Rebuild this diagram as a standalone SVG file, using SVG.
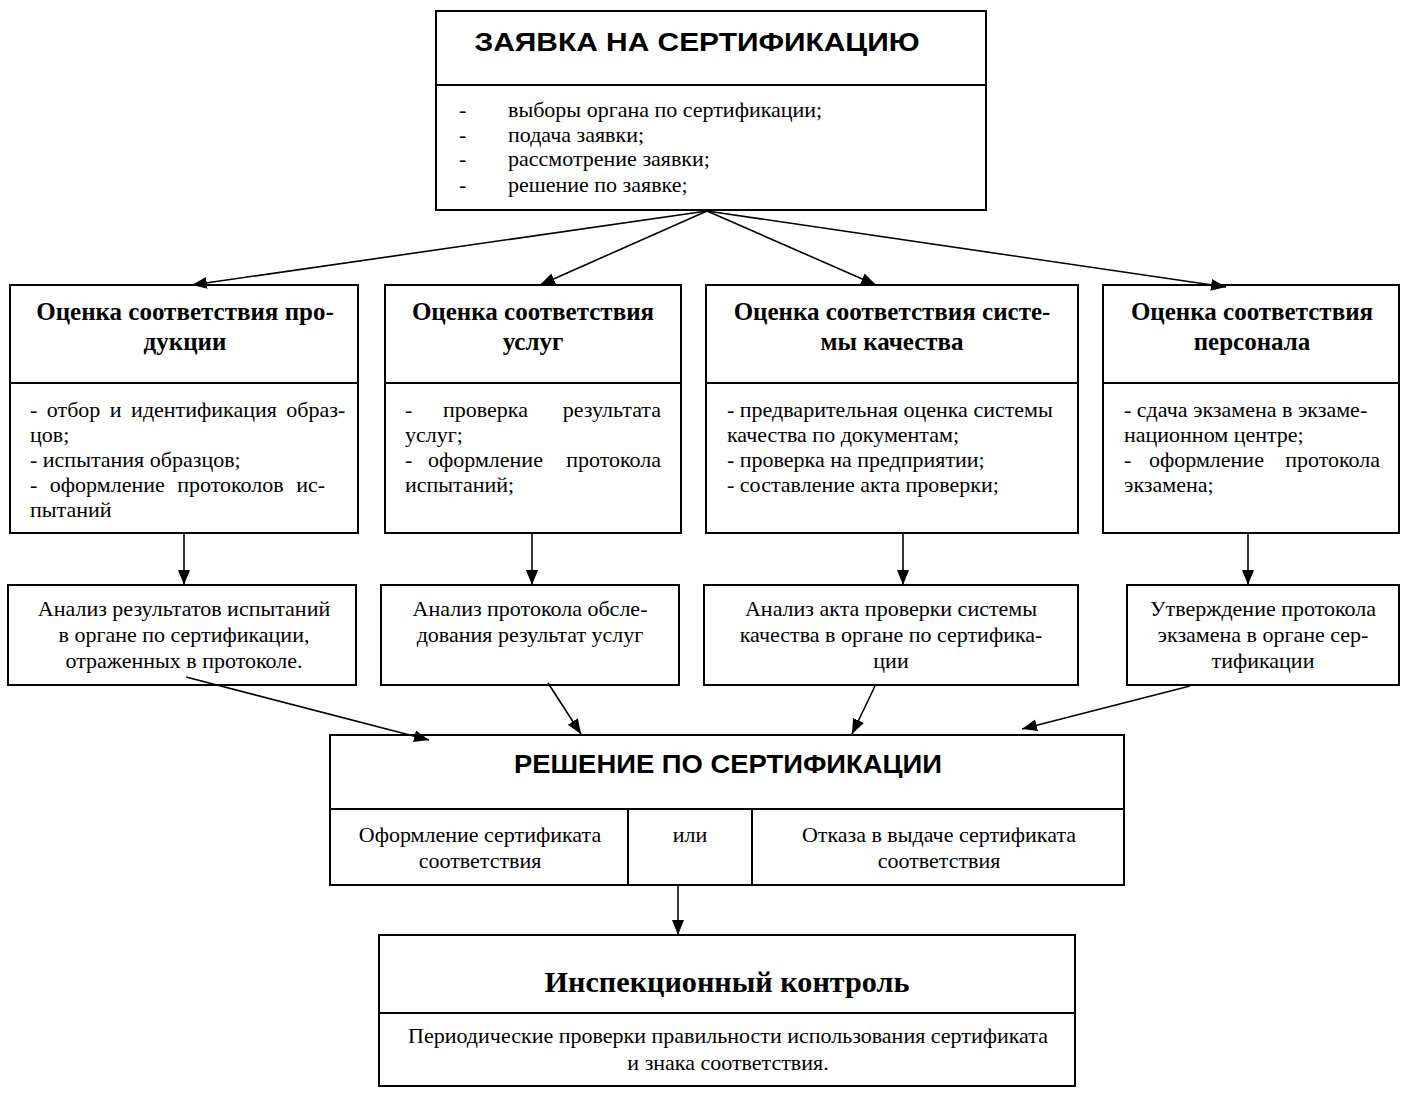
<svg xmlns="http://www.w3.org/2000/svg" width="1407" height="1100" viewBox="0 0 1407 1100">
<style>
.box{fill:#fff;stroke:#000;stroke-width:2}
.ln{stroke:#000;stroke-width:2}
.h1{font-family:"Liberation Sans",Arial,sans-serif;font-weight:bold;font-size:26px;text-anchor:middle}
.h2{font-family:"Liberation Serif","Times New Roman",serif;font-weight:bold;font-size:25px;text-anchor:middle}
.h3{font-family:"Liberation Serif","Times New Roman",serif;font-weight:bold;font-size:29px;text-anchor:middle}
.t{font-family:"Liberation Serif","Times New Roman",serif;font-size:22px}
.c{text-anchor:middle}
.con{stroke:#000;stroke-width:1.6;fill:none;marker-end:url(#ah)}
</style>
<defs>
<marker id="ah" markerUnits="userSpaceOnUse" markerWidth="17" markerHeight="14" refX="15" refY="7" orient="auto">
<path d="M0,1 L15,7 L0,13 Z" fill="#000"/>
</marker>
</defs>
<rect width="1407" height="1100" fill="#fff"/>
<g id="zayavka">
<rect class="box" x="436" y="11" width="550" height="199"/>
<line class="ln" x1="436" y1="85" x2="986" y2="85"/>
<text class="h1" x="697" y="51" textLength="445" lengthAdjust="spacingAndGlyphs">ЗАЯВКА НА СЕРТИФИКАЦИЮ</text>
<text class="t" x="459" y="117">-</text><text class="t" x="508" y="117">выборы органа по сертификации;</text>
<text class="t" x="459" y="142">-</text><text class="t" x="508" y="142">подача заявки;</text>
<text class="t" x="459" y="166">-</text><text class="t" x="508" y="166">рассмотрение заявки;</text>
<text class="t" x="459" y="192">-</text><text class="t" x="508" y="192">решение по заявке;</text>
</g>
<g id="ocenka-produkcii">
<rect class="box" x="10" y="285" width="348" height="248"/>
<line class="ln" x1="10" y1="383" x2="358" y2="383"/>
<text class="h2" x="185" y="320">Оценка соответствия про-</text>
<text class="h2" x="185" y="350">дукции</text>
<text class="t" x="30" y="417" word-spacing="4">- отбор и идентификация образ-</text>
<text class="t" x="30" y="442">цов;</text>
<text class="t" x="30" y="467">- испытания образцов;</text>
<text class="t" x="30" y="492" word-spacing="7">- оформление протоколов ис-</text>
<text class="t" x="30" y="517">пытаний</text>
</g>
<g id="ocenka-uslug">
<rect class="box" x="385" y="285" width="296" height="248"/>
<line class="ln" x1="385" y1="383" x2="681" y2="383"/>
<text class="h2" x="533" y="320">Оценка соответствия</text>
<text class="h2" x="533" y="350">услуг</text>
<text class="t" y="417"><tspan x="405">-</tspan><tspan x="443">проверка</tspan><tspan x="661" text-anchor="end">результата</tspan></text>
<text class="t" x="405" y="442">услуг;</text>
<text class="t" y="467"><tspan x="405">-</tspan><tspan x="428">оформление</tspan><tspan x="661" text-anchor="end">протокола</tspan></text>
<text class="t" x="405" y="492">испытаний;</text>
</g>
<g id="ocenka-sistemy">
<rect class="box" x="706" y="285" width="372" height="248"/>
<line class="ln" x1="706" y1="383" x2="1078" y2="383"/>
<text class="h2" x="892" y="320">Оценка соответствия систе-</text>
<text class="h2" x="892" y="350">мы качества</text>
<text class="t" x="727" y="417">- предварительная оценка системы</text>
<text class="t" x="727" y="442">качества по документам;</text>
<text class="t" x="727" y="467">- проверка на предприятии;</text>
<text class="t" x="727" y="492">- составление акта проверки;</text>
</g>
<g id="ocenka-personala">
<rect class="box" x="1103" y="285" width="296" height="248"/>
<line class="ln" x1="1103" y1="383" x2="1399" y2="383"/>
<text class="h2" x="1252" y="320">Оценка соответствия</text>
<text class="h2" x="1252" y="350">персонала</text>
<text class="t" x="1124" y="417">- сдача экзамена в экзаме-</text>
<text class="t" x="1124" y="442">национном центре;</text>
<text class="t" y="467"><tspan x="1124">-</tspan><tspan x="1149">оформление</tspan><tspan x="1380" text-anchor="end">протокола</tspan></text>
<text class="t" x="1124" y="492">экзамена;</text>
</g>
<g id="analiz-produkcii">
<rect class="box" x="8" y="585" width="348" height="100"/>
<text class="t c" x="184" y="616">Анализ результатов испытаний</text>
<text class="t c" x="184" y="642">в органе по сертификации,</text>
<text class="t c" x="184" y="668">отраженных в протоколе.</text>
</g>
<g id="analiz-uslug">
<rect class="box" x="381" y="585" width="298" height="100"/>
<text class="t c" x="530" y="616">Анализ протокола обсле-</text>
<text class="t c" x="530" y="642">дования результат услуг</text>
</g>
<g id="analiz-sistemy">
<rect class="box" x="704" y="585" width="374" height="100"/>
<text class="t c" x="891" y="616">Анализ акта проверки системы</text>
<text class="t c" x="891" y="642">качества в органе по сертифика-</text>
<text class="t c" x="891" y="668">ции</text>
</g>
<g id="utverzhdenie">
<rect class="box" x="1127" y="585" width="272" height="100"/>
<text class="t c" x="1263" y="616">Утверждение протокола</text>
<text class="t c" x="1263" y="642">экзамена в органе сер-</text>
<text class="t c" x="1263" y="668">тификации</text>
</g>
<g id="reshenie">
<rect class="box" x="330" y="735" width="794" height="150"/>
<line class="ln" x1="330" y1="809" x2="1124" y2="809"/>
<line class="ln" x1="628" y1="809" x2="628" y2="885"/>
<line class="ln" x1="752" y1="809" x2="752" y2="885"/>
<text class="h1" x="728" y="773" textLength="428" lengthAdjust="spacingAndGlyphs">РЕШЕНИЕ ПО СЕРТИФИКАЦИИ</text>
<text class="t c" x="480" y="842">Оформление сертификата</text>
<text class="t c" x="480" y="868">соответствия</text>
<text class="t c" x="690" y="842">или</text>
<text class="t c" x="939" y="842">Отказа в выдаче сертификата</text>
<text class="t c" x="939" y="868">соответствия</text>
</g>
<g id="inspekcionnyj-kontrol">
<rect class="box" x="379" y="935" width="696" height="151"/>
<line class="ln" x1="379" y1="1013" x2="1075" y2="1013"/>
<text class="h3" x="727" y="992" textLength="365" lengthAdjust="spacingAndGlyphs">Инспекционный контроль</text>
<text class="t c" x="728" y="1043">Периодические проверки правильности использования сертификата</text>
<text class="t c" x="728" y="1070">и знака соответствия.</text>
</g>
<g id="connectors">
<line class="con" x1="707" y1="211" x2="192" y2="285"/>
<line class="con" x1="707" y1="211" x2="540" y2="285"/>
<line class="con" x1="707" y1="211" x2="876" y2="285"/>
<line class="con" x1="707" y1="211" x2="1226" y2="287"/>
<line class="con" x1="184" y1="534" x2="184" y2="585"/>
<line class="con" x1="532" y1="534" x2="532" y2="585"/>
<line class="con" x1="903" y1="534" x2="903" y2="585"/>
<line class="con" x1="1248" y1="534" x2="1248" y2="585"/>
<line class="con" x1="186" y1="677" x2="429" y2="740"/>
<line class="con" x1="548" y1="683" x2="581" y2="734"/>
<line class="con" x1="875" y1="686" x2="852" y2="734"/>
<line class="con" x1="1190" y1="686" x2="1022" y2="729"/>
<line class="con" x1="678" y1="886" x2="678" y2="935"/>
</g>
</svg>
